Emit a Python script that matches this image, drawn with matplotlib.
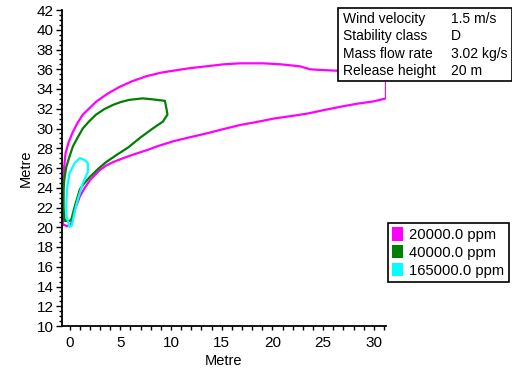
import matplotlib
matplotlib.use('Agg')
import matplotlib.pyplot as plt
from matplotlib.patches import Rectangle, Patch
from matplotlib.ticker import MultipleLocator

# contour outlines (metres)
levels = ['20000.0 ppm', '40000.0 ppm', '165000.0 ppm']
colors = ['#ff00ff', '#008000', '#00ffff']

mag_x = [-0.65, -0.65, -0.62, -0.55, -0.4, -0.1, 0.3, 0.8, 1.3, 2.0, 2.6, 3.7, 4.9, 6.2, 7.6, 9.0,
         10.2, 11.8, 13.5, 15.2, 16.8, 19.1, 20.8, 22.7, 23.7, 24.4, 26.4, 28.5, 30.3, 31.2,
         31.2, 30.0, 28.3, 26.7, 25.0, 23.4, 21.8, 20.1, 18.4, 16.8, 15.2, 13.5, 11.8, 10.2,
         8.8, 7.6, 6.4, 5.3, 4.3, 3.6, 3.0, 2.5, 2.0, 1.5, 1.0, 0.6, 0.3, 0.15, -0.25, -0.65]
mag_y = [20.3, 22.0, 24.0, 26.0, 27.5, 28.6, 29.6, 30.6, 31.4, 32.1, 32.7, 33.5, 34.2, 34.8, 35.3, 35.65,
         35.85, 36.1, 36.3, 36.5, 36.6, 36.6, 36.5, 36.3, 36.0, 35.95, 35.85, 35.8, 35.7, 35.6,
         33.05, 32.75, 32.5, 32.2, 31.85, 31.5, 31.25, 31.0, 30.65, 30.35, 29.95, 29.5, 29.1, 28.7,
         28.25, 27.8, 27.4, 27.0, 26.6, 26.25, 25.8, 25.3, 24.75, 24.0, 23.1, 22.0, 21.0, 20.3, 20.1, 20.3]

grn_x = [-0.5, -0.6, -0.6, -0.5, -0.33, 0.0, 0.33, 0.8, 1.3, 1.9, 2.6, 3.4, 4.3, 5.1, 5.9, 7.2,
         8.2, 9.4, 9.55, 9.65, 9.2, 8.2, 7.0, 5.8, 4.6, 3.6, 2.8, 2.0, 1.4, 1.0, 0.5, 0.15, -0.2, -0.5]
grn_y = [20.7, 22.0, 23.8, 25.0, 26.1, 27.2, 28.2, 29.1, 30.0, 30.7, 31.4, 31.95, 32.4, 32.7, 32.9, 33.05,
         32.95, 32.8, 32.0, 31.4, 30.7, 30.0, 29.1, 28.1, 27.3, 26.6, 25.9, 25.1, 24.4, 23.8, 22.1, 20.7, 20.6, 20.7]

cyn_x = [0.0, -0.3, -0.33, -0.26, -0.15, 0.0, 0.5, 1.0, 1.5, 1.8, 1.8, 1.3, 0.8, 0.5, 0.3, 0.2, 0.0]
cyn_y = [20.1, 21.0, 22.1, 23.8, 24.6, 25.5, 26.5, 27.0, 26.8, 26.5, 25.6, 24.45, 22.8, 21.6, 20.6, 20.1, 20.1]

info_keys = ['Wind velocity', 'Stability class', 'Mass flow rate', 'Release height']
info_vals = ['1.5 m/s', 'D', '3.02 kg/s', '20 m']

plt.rcParams['font.family'] = ['Liberation Sans', 'DejaVu Sans']
W, H = 512, 368
fig = plt.figure(figsize=(W/100, H/100), dpi=100)
ax = fig.add_axes([62/W, 1-326/H, (386-62)/W, (326-10)/H])

for xs, ys, c in zip([mag_x, grn_x, cyn_x], [mag_y, grn_y, cyn_y], colors):
    ax.plot(xs, ys, color=c, lw=1.6, solid_joinstyle='round')

ax.set_xlim(-0.75, 31.2); ax.set_ylim(10, 42)
ax.xaxis.set_major_locator(MultipleLocator(5)); ax.xaxis.set_minor_locator(MultipleLocator(1))
ax.yaxis.set_major_locator(MultipleLocator(2)); ax.yaxis.set_minor_locator(MultipleLocator(0.5))
ax.tick_params(which='major', length=4, width=1, labelsize=11, pad=2)
ax.tick_params(which='minor', length=2.5, width=1)
ax.tick_params(axis='x', which='both', length=3, pad=4)
for s in ['top', 'right']: ax.spines[s].set_visible(False)
for s in ['left', 'bottom']: ax.spines[s].set_linewidth(1.3)
ax.set_xlabel('Metre', fontsize=10.5, labelpad=3)
ax.set_ylabel('Metre', fontsize=10.5, labelpad=3)

# info box, top right
fig.patches.append(Rectangle((338/W, 1-81/H), (W-338)/W, (81-8)/H, transform=fig.transFigure,
                             facecolor='white', edgecolor='black', lw=1.2, zorder=5))
for i, (k, v) in enumerate(zip(info_keys, info_vals)):
    yy = 1 - (19 + 17.3*i)/H
    fig.text(343/W, yy, k, fontsize=10, va='center', zorder=6)
    fig.text(451/W, yy, v, fontsize=10, va='center', zorder=6)

handles = [Patch(facecolor=c, edgecolor='none') for c in colors]
leg = fig.legend(handles, levels, loc='upper left', bbox_to_anchor=(388/W, 1-223/H),
                 fontsize=10.6, frameon=True, fancybox=False, edgecolor='black', framealpha=1,
                 handlelength=0.75, handleheight=1.0, handletextpad=0.4, labelspacing=0.22,
                 borderpad=0.3, borderaxespad=0)
leg.get_frame().set_linewidth(1.2)

fig.savefig('out.png', dpi=100)
